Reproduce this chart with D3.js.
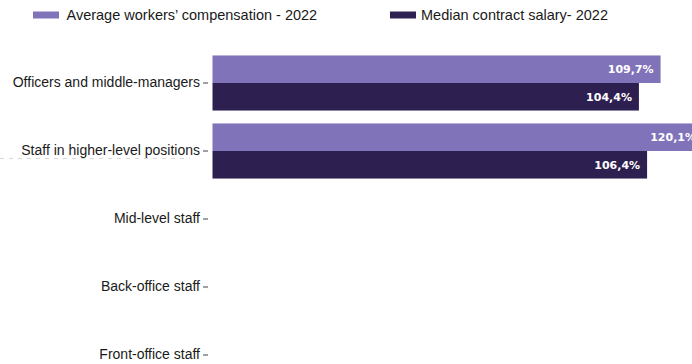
<!DOCTYPE html>
<html>
<head>
<meta charset="utf-8">
<script src="https://cdn.jsdelivr.net/npm/d3@7"></script>
<style>
  html, body { margin: 0; padding: 0; background: #fff; }
  svg { display: block; }
</style>
</head>
<body>
<svg id="chart" width="692" height="364"></svg>
<script>
// Job categories (top to bottom)
const categories = [
  "Officers and middle-managers",
  "Staff in higher-level positions",
  "Mid-level staff",
  "Back-office staff",
  "Front-office staff"
];

// Series names and their values (% relative to reference), null = no bar
const seriesNames = ["Average workers\u2019 compensation - 2022", "Median contract salary- 2022"];
const averageCompensation = [109.7, 120.1, null, null, null];
const medianSalary = [104.4, 106.4, null, null, null];
const seriesColors = ["#8073ba", "#2d2050"];

const seriesValues = [averageCompensation, medianSalary];
const fmt = v => v.toFixed(1).replace(".", ",") + "%";

const svg = d3.select("#chart");

// Scales
const x = d3.scaleLinear().domain([0, 110]).range([212.5, 661.8]);
const y0 = d3.scaleBand().domain(categories).range([49, 389])
  .paddingInner(0.19).paddingOuter(0.095);
const y1 = d3.scaleBand().domain(d3.range(seriesNames.length)).range([0, y0.bandwidth()]);

// Category axis
const axis = svg.append("g")
  .attr("transform", "translate(208,0)")
  .call(d3.axisLeft(y0).tickSize(5).tickPadding(3));
axis.select(".domain").remove();
axis.selectAll(".tick line").attr("stroke", "#444").attr("stroke-width", 1);
axis.selectAll(".tick text")
  .attr("fill", "#1a1a1a")
  .style("font-family", "'Liberation Sans', Arial, sans-serif")
  .style("font-size", "14px");

// Faint leftover guide under the second label
svg.append("line")
  .attr("x1", 0).attr("x2", 190)
  .attr("y1", 158.5).attr("y2", 158.5)
  .attr("stroke", "#d8d8d8")
  .attr("stroke-width", 1)
  .attr("stroke-dasharray", "4,5");

// Bars
const groups = svg.append("g").selectAll("g")
  .data(categories)
  .join("g")
  .attr("transform", d => `translate(0,${y0(d)})`);

groups.each(function(cat, ci) {
  const g = d3.select(this);
  seriesValues.forEach((vals, si) => {
    const v = vals[ci];
    if (v == null) return;
    g.append("rect")
      .attr("x", x(0))
      .attr("y", y1(si))
      .attr("width", x(v) - x(0))
      .attr("height", y1.bandwidth())
      .attr("fill", seriesColors[si]);
    g.append("text")
      .attr("x", x(v) - 7)
      .attr("y", y1(si) + y1.bandwidth() / 2)
      .attr("dy", "0.36em")
      .attr("text-anchor", "end")
      .attr("fill", "#fff")
      .style("font-family", "'DejaVu Sans', Verdana, sans-serif")
      .style("font-weight", "bold")
      .style("font-size", "11px")
      .text(fmt(v));
  });
});

// Legend
const legendPos = [{ sx: 33, tx: 66.5 }, { sx: 390, tx: 421 }];
const legend = svg.append("g").selectAll("g")
  .data(seriesNames)
  .join("g");
legend.append("rect")
  .attr("x", (d, i) => legendPos[i].sx)
  .attr("y", 11.5)
  .attr("width", 26)
  .attr("height", 7)
  .attr("fill", (d, i) => seriesColors[i]);
legend.append("text")
  .attr("x", (d, i) => legendPos[i].tx)
  .attr("y", 20)
  .attr("fill", "#1a1a1a")
  .style("font-family", "'Liberation Sans', Arial, sans-serif")
  .style("font-size", "14.5px")
  .text(d => d);
</script>
</body>
</html>
